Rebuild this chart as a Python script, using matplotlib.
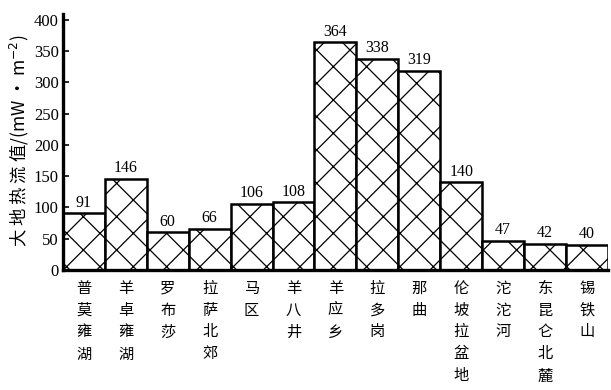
import matplotlib
matplotlib.use("Agg")
import matplotlib.pyplot as plt
import numpy as np

plt.rcParams['hatch.linewidth'] = 0.9

sites = ["普莫雍湖", "羊卓雍湖", "罗布莎", "拉萨北郊", "马区", "羊八井", "羊应乡",
         "拉多岗", "那曲", "伦坡拉盆地", "沱沱河", "东昆仑北麓", "锡铁山"]
heat_flow = [91, 146, 60, 66, 106, 108, 364, 338, 319, 140, 47, 42, 40]
yticks = [0, 50, 100, 150, 200, 250, 300, 350, 400]

fig = plt.figure(figsize=(6.11, 3.90), dpi=100)
ax = fig.add_axes([0.103, 0.308, 0.892, 0.657])

x = np.arange(len(sites))
bars = ax.bar(x, heat_flow, width=1.0, color='white', edgecolor='black',
              linewidth=1.8, hatch='x')

for xi, v in zip(x, heat_flow):
    ax.text(xi, v + 4, str(v), ha='center', va='bottom',
            family='Liberation Serif', fontsize=11.5)

ax.set_xlim(-0.5, len(sites) - 0.5)
ax.set_ylim(0, 410)
ax.set_yticks(yticks)
ax.set_yticklabels([str(t) for t in yticks], family='Liberation Serif', fontsize=12)
ax.tick_params(axis='y', direction='in', length=4, width=1.2, pad=3)
ax.set_xticks(x)
ax.set_xticklabels(['\n'.join(s) for s in sites],
                   family=['Noto Sans CJK SC', 'DejaVu Sans'], fontsize=11,
                   va='top', linespacing=1.38)
ax.tick_params(axis='x', length=0, pad=7)

for s in ['top', 'right']:
    ax.spines[s].set_visible(False)
ax.spines['left'].set_linewidth(2.4)
ax.spines['bottom'].set_linewidth(2.4)

fig.text(0.032, 0.64, "大 地 热 流 值/(mW · m$^{-2}$)",
         family=['Noto Sans CJK SC', 'DejaVu Sans'], fontsize=12.5,
         rotation=90, ha='center', va='center')

fig.savefig("out.png", dpi=100)
